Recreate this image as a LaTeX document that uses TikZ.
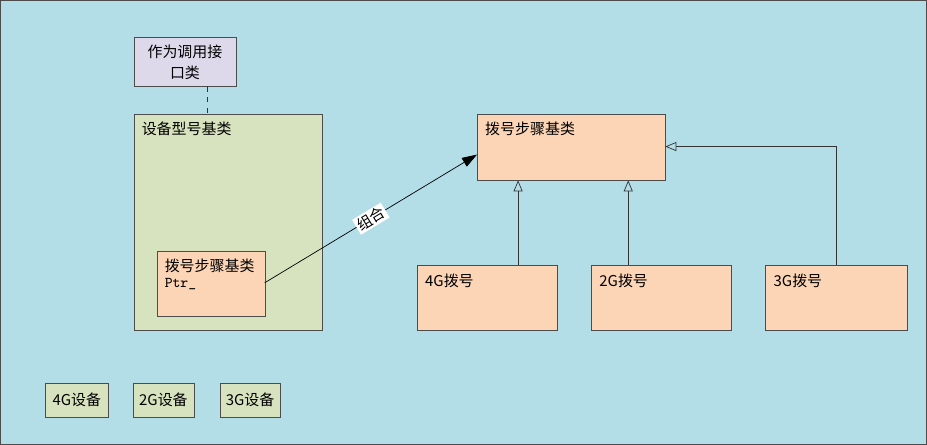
\documentclass[tikz,border=0pt]{standalone}
\usepackage{fontspec}
\setmainfont{Noto Sans CJK SC}
\usetikzlibrary{arrows.meta, positioning}
\definecolor{bgblue}{HTML}{B3DDE7}
\definecolor{lav}{HTML}{DDD9EA}
\definecolor{olive}{HTML}{D7E3BF}
\definecolor{peach}{HTML}{FCD5B6}
\tikzset{
  box/.style={draw=black!70, anchor=north west, inner sep=3pt, font=\fontsize{8.5}{11}\selectfont},
  cls/.style={box, fill=peach},
  dev/.style={box, fill=olive},
  lbl/.style={anchor=north west, align=left, font=\fontsize{8.5}{11}\selectfont},
  inherit/.style={-{Triangle[open, length=2.2mm, width=1.8mm]}, black!80},
}
\begin{document}
\begin{tikzpicture}[x=0.02cm, y=-0.02cm]
        % Background
        \draw[fill=bgblue, draw=black!70] (1,1) rectangle (926,444);
        % Interface and device base class
        \node[box, fill=lav, minimum width=102*0.02cm, minimum height=49*0.02cm] (iface) at (134,38) {};
        \node[font=\fontsize{8.5}{12}\selectfont, align=center] at (iface.center) {作为调用接\\口类};
        \node[dev, minimum width=188*0.02cm, minimum height=216*0.02cm] (devbase) at (134,114) {};
        \node[lbl] at (136,116) {设备型号基类};
        \draw[dashed, black!80] (208,87) -- (208,114);
        % Member pointer
        \node[cls, minimum width=108*0.02cm, minimum height=65*0.02cm] (ptr) at (157,251) {};
        \node[lbl, font=\fontsize{8.5}{10}\selectfont] at (159,253) {拨号步骤基类\\[-1pt]{\ttfamily Ptr\_}};
        % Dial step classes
        \node[cls, minimum width=188*0.02cm, minimum height=66*0.02cm] (step) at (477,114) {};
        \node[lbl] at (479,116) {拨号步骤基类};
        \node[cls, minimum width=140*0.02cm, minimum height=65*0.02cm] (d4) at (417,265) {};
        \node[cls, minimum width=140*0.02cm, minimum height=65*0.02cm] (d2) at (591,265) {};
        \node[cls, minimum width=141*0.02cm, minimum height=65*0.02cm] (d3) at (765,265) {};
        \node[lbl] at (419,268) {4G拨号};
        \node[lbl] at (593,268) {2G拨号};
        \node[lbl] at (767,268) {3G拨号};
        % Inheritance
        \coordinate (a4) at (518,265);
        \coordinate (a2) at (628,265);
        \coordinate (a3) at (836,265);
        \coordinate (s3) at (665,147);
        \draw[inherit] (a4) -- (a4 |- step.south);
        \draw[inherit] (a2) -- (a2 |- step.south);
        \draw[inherit] (a3) |- (s3);
        % Composition
        \coordinate (p0) at (265,283);
        \coordinate (p1) at (477,155);
        \draw[-{Triangle[length=3mm, width=2mm]}] (p0) -- node[sloped, fill=white, inner sep=1pt, font=\fontsize{8.5}{10}\selectfont] {组合} (p1);
        % Devices
        \node[dev, minimum width=62*0.02cm, minimum height=34*0.02cm] (g4) at (46,383) {4G设备};
        \node[dev, minimum width=61*0.02cm, minimum height=34*0.02cm] (g2) at (133,383) {2G设备};
        \node[dev, minimum width=60*0.02cm, minimum height=34*0.02cm] (g3) at (220,383) {3G设备};
\end{tikzpicture}
\end{document}
